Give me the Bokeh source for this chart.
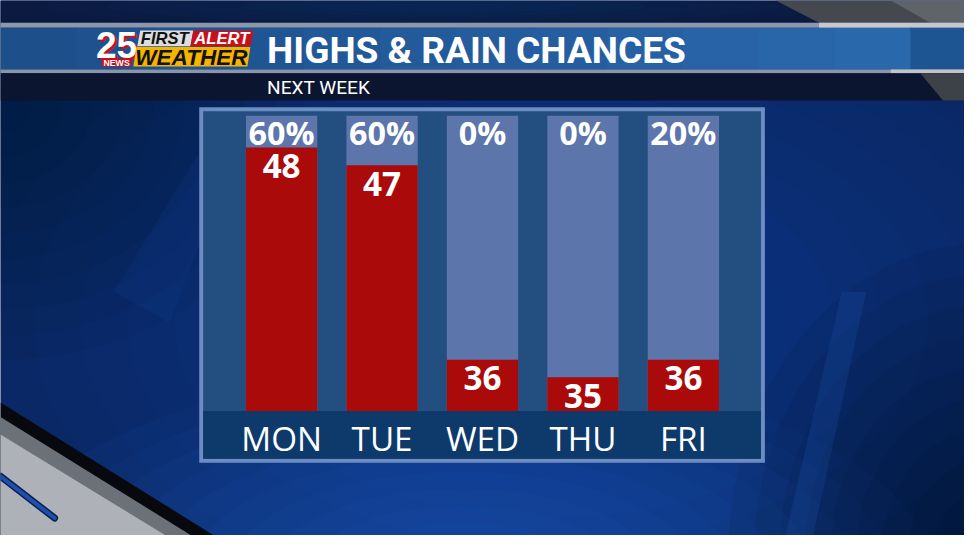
from bokeh.plotting import figure
from bokeh.models import Range1d, FactorRange, ColumnDataSource
from bokeh.core.properties import value
from bokeh.transform import dodge
from bokeh.embed import file_html
from bokeh.resources import INLINE

# ---------------- data ----------------
DAYS = ["MON", "TUE", "WED", "THU", "FRI"]
HIGHS = [48, 47, 36, 35, 36]
RAIN = [60, 60, 0, 0, 20]
RAIN_LABELS = [f"{r}%" for r in RAIN]
HIGH_LABELS = [str(h) for h in HIGHS]
TITLE = "HIGHS & RAIN CHANCES"
SUBTITLE = "NEXT WEEK"

# ---------------- layout constants ----------------
W, H = 964, 535          # figure size in px
CW, CH = 980, 551        # design canvas units
S = (W / CW + H / CH) / 2

X0, DX = 234.7, 102.1    # canvas x of the first category edge, canvas units per category
T_BASE = 33.1            # temperature at the floor of the columns
T_TOP = 49.8             # temperature at the top of the columns
PX_PER_DEG = 18.2        # canvas units per degree
FLOOR_Y = 422.7          # canvas y of the column floor

def fs(px):
    return f"{px * S:.1f}px"

def X(v):
    """design-canvas x -> synthetic categorical coordinate"""
    if isinstance(v, (list, tuple)):
        return [(a - X0) / DX for a in v]
    return (v - X0) / DX

def D(w):
    return w / DX

pad = X0 / DX
p = figure(width=W, height=H,
           x_range=FactorRange(factors=DAYS, range_padding=pad, range_padding_units="absolute"),
           y_range=Range1d(CH, 0),
           output_backend="svg", toolbar_location=None, min_border=0,
           x_axis_location=None, y_axis_location=None,
           background_fill_color="#0a2762", border_fill_color="#0a2762",
           outline_line_color=None)
p.grid.visible = False
p.extra_y_ranges = {"temp": Range1d(T_BASE - (CH - FLOOR_Y) / PX_PER_DEG,
                                    T_BASE + FLOOR_Y / PX_PER_DEG)}

def quad(l, r, t, b, color, alpha=1.0):
    p.quad(left=X(l), right=X(r), top=t, bottom=b, fill_color=color, fill_alpha=alpha, line_color=None)

def patch(xs, ys, color, alpha=1.0):
    p.patch(x=X(list(xs)), y=list(ys), fill_color=color, fill_alpha=alpha, line_color=None)

def glow(x, y, w, h, color, alpha, n=10):
    ws = [w * (1 - k / n) for k in range(n)]
    hs = [h * (1 - k / n) for k in range(n)]
    p.ellipse(x=[X(x)] * n, y=[y] * n, width=[D(a) for a in ws], height=hs,
              fill_color=color, fill_alpha=alpha, line_color=None)

# ---------------- background ----------------
glow(560, 330, 1150, 700, "#1a4fb8", 0.045, 12)
glow(470, 590, 950, 420, "#2a6ae0", 0.055, 12)
glow(0, 110, 620, 520, "#03102e", 0.05, 10)
glow(1000, 570, 520, 640, "#020a20", 0.07, 10)
patch([200, 232, 172, 115], [160, 172, 332, 300], "#1c4fb0", 0.12)
patch([855, 880, 826, 798], [300, 300, 551, 551], "#2a6ee0", 0.14)

# bottom-left bevel
patch([0, 217, 0], [414, 551, 551], "#07090e")
patch([0, 194, 0], [429, 551, 551], "#6c7078")
patch([0, 168, 0], [447, 551, 551], "#aeb2b8")
p.line(x=X([0, 55]), y=[490, 533], line_color="#0b1f4a", line_width=7, line_cap="round")
p.line(x=X([0, 55]), y=[490, 533], line_color="#1d4fae", line_width=4, line_cap="round")

# ---------------- header ----------------
quad(0, 980, 0, 23, "#0a1a40")
glow(450, 6, 820, 40, "#17428e", 0.06, 6)
patch([788, 980, 980, 832], [0, 0, 23, 23], "#45494f")
patch([905, 980, 980, 945], [0, 0, 23, 23], "#5f636a")
quad(0, 980, 23, 28, "#8d97aa")
quad(832, 980, 23, 28, "#c5c9cf")
n = 12
for i in range(n):
    t = i / (n - 1)
    r = int(0x1d + (0x2a - 0x1d) * t); g = int(0x4f + (0x68 - 0x4f) * t); b = int(0x8b + (0xac - 0x8b) * t)
    quad(925 * i / n, 925 * (i + 1) / n + 1, 28, 71, f"#{r:02x}{g:02x}{b:02x}")
quad(925, 980, 28, 71, "#1d5592")
quad(0, 980, 71, 75, "#8b95a8")
quad(905, 980, 71, 75, "#c0c4ca")
quad(0, 980, 75, 103, "#0b1530")
patch([935, 980, 980, 958], [75, 75, 103, 103], "#3d4148")

def label(x, y, txt, color, font, style, size, align="center"):
    p.text(x=[X(x)], y=[y], text=[txt], text_color=color, text_font=value(font),
           text_font_style=style, text_font_size=fs(size), text_align=align, text_baseline="middle")

# logo
quad(103, 133, 60, 68, "#c8101a")
label(120, 48, "25", "#c8101a", "Liberation Sans", "bold", 38)
label(118, 46, "25", "white", "Liberation Sans", "bold", 38)
label(118, 64.5, "NEWS", "white", "Liberation Sans", "bold", 9)
patch([142, 196, 193, 139], [31, 31, 47, 47], "#dcdde0")
patch([196, 257, 254, 193], [31, 31, 47, 47], "#c8101a")
patch([138, 254, 251, 135], [48, 48, 68, 68], "#f5b400")
label(167, 39.5, "FIRST", "#111111", "Liberation Sans", "bold italic", 17)
label(225, 39.5, "ALERT", "white", "Liberation Sans", "bold italic", 17)
label(194, 58.5, "WEATHER", "#111111", "Liberation Sans", "bold italic", 23)

label(271, 51, TITLE, "white", "Roboto", "bold", 38, "left")
label(271, 89.5, SUBTITLE, "white", "Roboto", "normal", 19.5, "left")

# ---------------- panel ----------------
quad(202, 777, 110, 476, "#6d8cc2")
quad(206, 773, 114, 472, "#234e80")
quad(206, 773, FLOOR_Y, 472, "#0e3a6b")

src = ColumnDataSource(dict(day=DAYS, high=HIGHS, hl=HIGH_LABELS, rl=RAIN_LABELS,
                            base=[T_BASE] * len(DAYS), top=[T_TOP] * len(DAYS)))

p.vbar(x="day", top="top", bottom="base", width=0.71, source=src,
       y_range_name="temp", fill_color="#5c75ab", line_color=None)
p.vbar(x="day", top="high", bottom="base", width=0.71, source=src,
       y_range_name="temp", fill_color="#aa0a0a", line_color=None)

p.text(x="day", y=dodge("high", -19.0 / PX_PER_DEG), text="hl", source=src,
       y_range_name="temp", text_color="white",
       text_font=value("Open Sans"), text_font_style="bold", text_font_size=fs(34),
       text_align="center", text_baseline="middle")
p.text(x="day", y=135, text="rl", source=src,
       text_color="white", text_font=value("Open Sans"), text_font_style="bold",
       text_font_size=fs(33), text_align="center", text_baseline="middle")
p.text(x="day", y=451, text="day", source=src,
       text_color="white", text_font=value("Open Sans"),
       text_font_size=fs(34), text_align="center", text_baseline="middle")

open("out.html", "w").write(file_html(p, INLINE))
